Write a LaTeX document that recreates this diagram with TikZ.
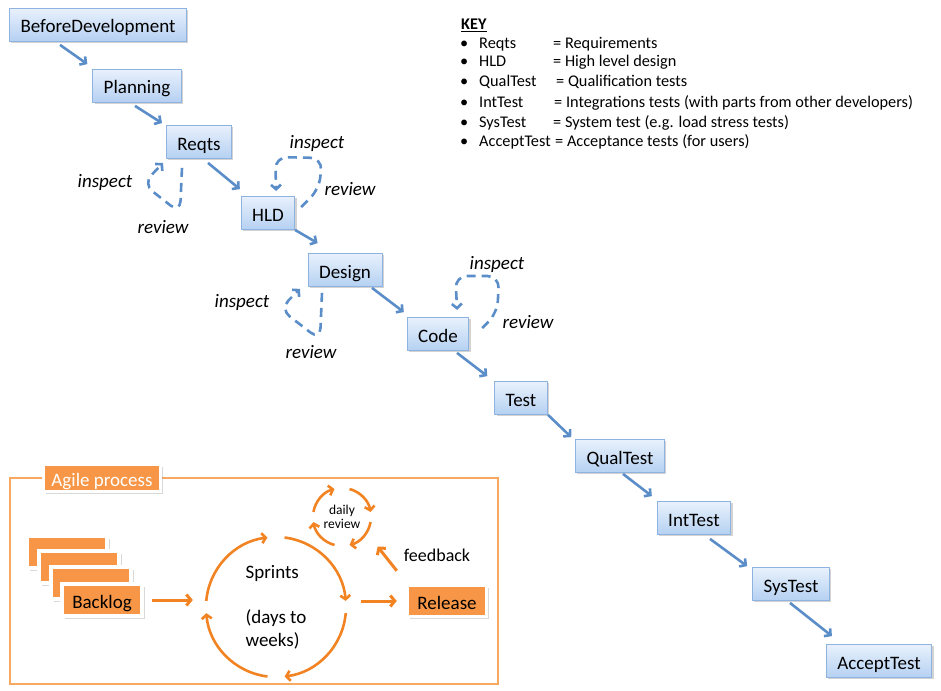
\documentclass[tikz,border=0pt]{standalone}
\usepackage{fontspec}
\setmainfont{Carlito}
\usetikzlibrary{arrows.meta,positioning,calc,shadows}
\definecolor{wfBlue}{HTML}{5B8DC9}
\definecolor{wfLine}{HTML}{8FB3E0}
\definecolor{wfTop}{HTML}{E8F1FC}
\definecolor{wfBottom}{HTML}{B5D0F2}
\definecolor{agOrange}{HTML}{F79646}
\definecolor{agArrow}{HTML}{F28323}
\definecolor{agFrame}{HTML}{F9A862}
\tikzset{
  flow/.style={-{Straight Barb[length=4.5pt,width=10pt]}, line width=2.6pt, draw=wfBlue},
  loopdash/.style={-{Straight Barb[length=4.5pt,width=10pt]}, line width=2.6pt, draw=wfBlue, dash pattern=on 9pt off 6pt, rounded corners=12pt},
  stage/.style={rectangle, draw=wfLine, line width=0.8pt, top color=wfTop, bottom color=wfBottom, minimum height=33pt, inner xsep=11pt, inner ysep=2pt, text height=17pt, text depth=1pt, font=\fontsize{19}{21}\selectfont, drop shadow={shadow xshift=1.8pt, shadow yshift=-1.8pt, opacity=0.35}},
  remark/.style={font=\fontsize{19}{21}\selectfont\itshape},
  keyline/.style={anchor=west, font=\fontsize{16.3}{18}\selectfont, text height=11pt, text depth=3pt, inner sep=0pt},
  card/.style={rectangle, draw=white, line width=3.5pt, fill=agOrange, minimum width=80pt, minimum height=32pt, inner ysep=2pt, text height=17pt, text depth=1pt, font=\fontsize{19}{21}\selectfont, drop shadow={shadow xshift=2.6pt, shadow yshift=-2.6pt, opacity=0.3}},
  agileframe/.style={draw=agFrame, line width=1.4pt},
  oarr/.style={-{Straight Barb[length=4.5pt,width=11pt]}, line width=3pt, draw=agArrow},
  cyc/.style={-{Straight Barb[length=4pt,width=10pt]}, line width=2.6pt, draw=agArrow}
}
\begin{document}
\begin{tikzpicture}[x=1pt,y=-1pt]
  \useasboundingbox (0,0) rectangle (941,690);
  % waterfall stages
  \node[stage] (before) at (98,25) {BeforeDevelopment};
  \node[stage] (planning) at (137,86) {Planning};
  \node[stage] (reqts) at (199,142) {Reqts};
  \node[stage] (hld) at (268,213) {HLD};
  \node[stage] (design) at (345,270) {Design};
  \node[stage] (code) at (438,334) {Code};
  \node[stage] (test) at (521,398) {Test};
  \node[stage] (qualtest) at (620,456) {QualTest};
  \node[stage] (inttest) at (694,518) {IntTest};
  \node[stage] (systest) at (791,584) {SysTest};
  \node[stage] (accepttest) at (879,661) {AcceptTest};
  \foreach \a/\b/\sx/\sy/\ex/\ey in {before/planning/-38/3/-5/-5, planning/reqts/-2/3/-4/-2,
      reqts/hld/9/4/-1/-7, hld/design/27/0/10/-10, design/code/27/1/-3/-5, code/test/19/2/-7/-5,
      test/qualtest/27/0/-4/-2, qualtest/inttest/3/1/-5/-5, inttest/systest/16/4/-5/-1,
      systest/accepttest/-1/2/6/-8}
    \draw[flow] ([shift={(\sx,\sy)}]\a.south) -- ([shift={(\ex,\ey)}]\b.north west);
  % review loops
  \draw[loopdash] ([shift={(-17,9)}]reqts.south) -- ++(-2,45) -- ++(-37,-29) -- ++(20,-21);
  \draw[loopdash] ([shift={(6,-6)}]hld.east) -- ++(18,-18) -- ++(3,-31) -- ++(-47,-1) -- ++(1,34);
  \draw[loopdash] ([shift={(-23,6)}]design.south) -- ++(-2,47) -- ++(-40,-31) -- ++(20,-20);
  \draw[loopdash] ([shift={(13,-6)}]code.east) -- ++(15,-15) -- ++(2,-37) -- ++(-44,0) -- ++(2,34);
  \node[remark] (reqtsIns) at (105,182) {inspect};
  \node[remark] (reqtsRev) at (163,227) {review};
  \node[remark] (hldIns) at (317,143) {inspect};
  \node[remark] (hldRev) at (350,189) {review};
  \node[remark] (designIns) at (242,302) {inspect};
  \node[remark] (designRev) at (311,352) {review};
  \node[remark] (codeIns) at (497,264) {inspect};
  \node[remark] (codeRev) at (528,322) {review};
  % key
  \node[keyline, font=\fontsize{16.3}{18}\selectfont\bfseries] (keyhead) at (461,26) {\underline{KEY}};
  \foreach \y/\term/\dx/\desc [count=\i] in {45/Reqts/553/Requirements, 63/HLD/553/High level design,
      83/QualTest/556/Qualification tests, 103/IntTest/554/Integrations tests (with parts from other developers),
      123/SysTest/553/System test (e.g. load stress tests), 142/AcceptTest/555/Acceptance tests (for users)}{
    \node[keyline] (keyb\i) at (460,\y) {\textbullet};
    \node[keyline] (keyt\i) at (479,\y) {\term};
    \node[keyline] (keyd\i) at (\dx,\y) {= \desc};
  }
  % agile process
  \draw[agileframe] (10,478) rectangle (498,684);
  \node[card, minimum width=117pt, minimum height=27pt, text=white] (agile) at (102,478) {Agile process};
  \foreach \x/\y [count=\i] in {67/552, 79/567, 91/583}
    \node[card] (stack\i) at (\x,\y) {};
  \node[card] (backlog) at (102,600) {Backlog};
  \node[circle, minimum size=140pt, align=left, font=\fontsize{19}{22.5}\selectfont] (sprints) at (276,607) {Sprints\\[23pt](days to\\weeks)};
  \node[card, minimum width=79pt, minimum height=31pt] (release) at (447,601) {Release};
  \node[circle, minimum size=58pt, inner sep=0pt, align=center, font=\fontsize{13.5}{14}\selectfont] (daily) at (342,517) {daily\\review};
  \foreach \s/\e in {-175/-97, -83/-5, 5/83, 97/175}
    \draw[cyc] ([shift={(\s:70)}]sprints.center) arc[start angle=\s, end angle=\e, radius=70];
  \foreach \s/\e in {-170/-105, -75/-10, 10/75, 105/170}
    \draw[cyc] ([shift={(\s:29)}]daily.center) arc[start angle=\s, end angle=\e, radius=29];
  \draw[oarr] ([xshift=8pt]backlog.east) -- ([xshift=-13pt]backlog.east -| sprints.west);
  \draw[oarr] ([xshift=15pt]sprints.east |- release.west) -- ([xshift=-9pt]release.west);
  \draw[oarr] ([shift={(-9,-13)}]release.north west) -- ([shift={(15,9)}]daily.south east);
  \node[font=\fontsize{18}{20}\selectfont] (feedback) at (437,555) {feedback};
\end{tikzpicture}
\end{document}
